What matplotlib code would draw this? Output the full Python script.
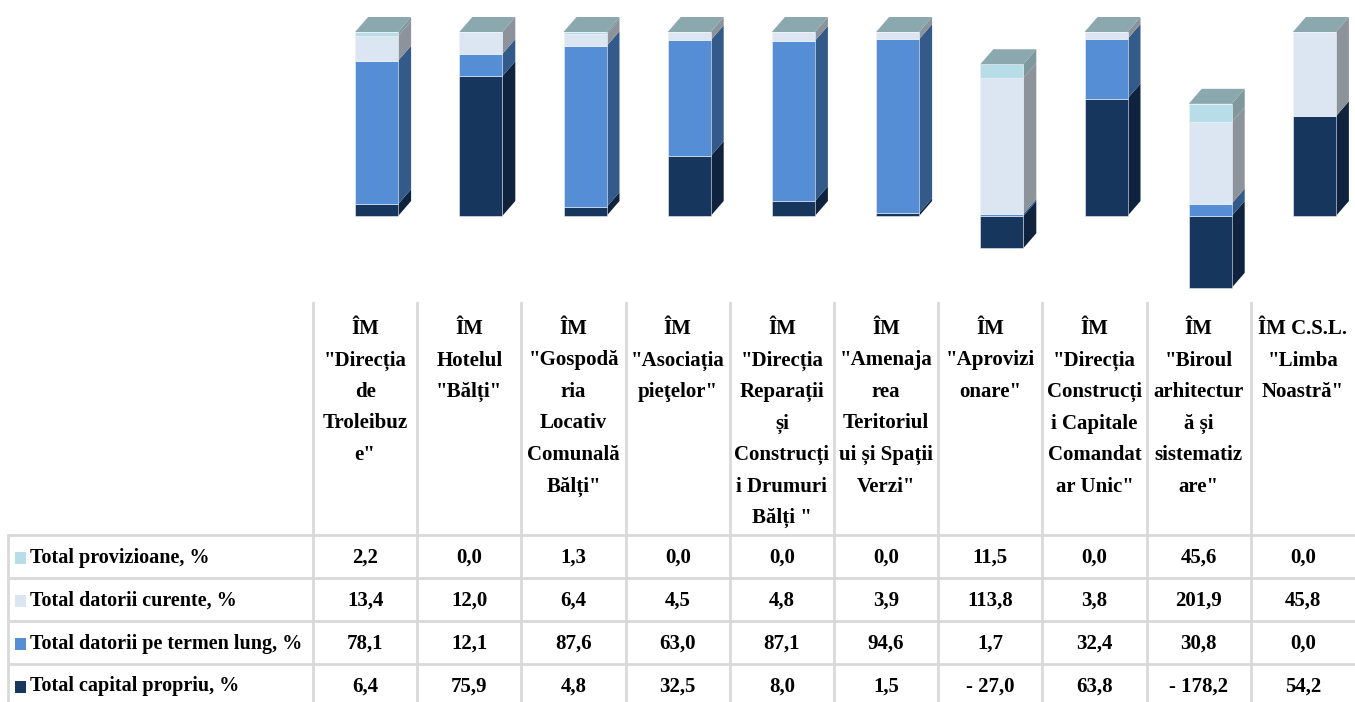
import numpy as np
import matplotlib
matplotlib.use("Agg")
import matplotlib.pyplot as plt
from matplotlib.patches import Polygon, Rectangle

plt.rcParams['font.family'] = ['Liberation Serif', 'DejaVu Serif']

# date din tabel
intreprinderi = [
    ['ÎM', '"Direcția', 'de', 'Troleibuz', 'e"'],
    ['ÎM', 'Hotelul', '"Bălți"'],
    ['ÎM', '"Gospodă', 'ria', 'Locativ', 'Comunală', 'Bălți"'],
    ['ÎM', '"Asociația', 'pieţelor"'],
    ['ÎM', '"Direcția', 'Reparații', 'și', 'Construcți', 'i Drumuri', 'Bălți "'],
    ['ÎM', '"Amenaja', 'rea', 'Teritoriul', 'ui și Spații', 'Verzi"'],
    ['ÎM', '"Aprovizi', 'onare"'],
    ['ÎM', '"Direcția', 'Construcți', 'i Capitale', 'Comandat', 'ar Unic"'],
    ['ÎM', '"Biroul', 'arhitectur', 'ă și', 'sistematiz', 'are"'],
    ['ÎM C.S.L.', '"Limba', 'Noastră"'],
]
serii = ['Total provizioane, %', 'Total datorii curente, %',
         'Total datorii pe termen lung, %', 'Total capital propriu, %']
provizioane = [2.2, 0.0, 1.3, 0.0, 0.0, 0.0, 11.5, 0.0, 45.6, 0.0]
datorii_curente = [13.4, 12.0, 6.4, 4.5, 4.8, 3.9, 113.8, 3.8, 201.9, 45.8]
datorii_lung = [78.1, 12.1, 87.6, 63.0, 87.1, 94.6, 1.7, 32.4, 30.8, 0.0]
capital = [6.4, 75.9, 4.8, 32.5, 8.0, 1.5, -27.0, 63.8, -178.2, 54.2]

# culori: fata, lateral
culori = {
    'prov': ('#B7DEE8', '#7E989D'),
    'cur': ('#DCE6F2', '#8D939B'),
    'lung': ('#558ED5', '#345A8A'),
    'cap': ('#17365D', '#0F233E'),
}
culoare_sus = '#8AA8AE'

W, H = 1355, 702
fig = plt.figure(figsize=(W / 100, H / 100), dpi=100)
fig.patch.set_facecolor('white')

def fx(px):
    return px / W

def fy(py):
    return 1 - py / H

# zona graficului: coloanele tabelului 313..1355, 0% la y=216, 100% la y=32
x_st, x_dr = 313, 1355
ppu = 184 / 100.0
y_sus = 216 / ppu
y_jos = -(300 - 216) / ppu
ax = fig.add_axes([fx(x_st), fy(300), fx(x_dr - x_st), 300 / H])
ax.set_xlim(0, 10)
ax.set_ylim(y_jos, y_sus)
ax.axis('off')

n = len(capital)
dx = 13 / ((x_dr - x_st) / 10)
dy = 15 / ppu
lat = 43 / ((x_dr - x_st) / 10)
off = -10 / ((x_dr - x_st) / 10)

for i in range(n):
    vals = np.array([capital[i], datorii_lung[i], datorii_curente[i], provizioane[i]])
    pct = vals / np.abs(vals).sum() * 100
    x0 = i + 0.5 + off
    x1 = x0 + lat
    segs = []
    # capital negativ sub zero
    if pct[0] < 0:
        segs.append(('cap', pct[0], 0))
        base = 0
        rest = [('lung', pct[1]), ('cur', pct[2]), ('prov', pct[3])]
    else:
        base = 0
        rest = [('cap', pct[0]), ('lung', pct[1]), ('cur', pct[2]), ('prov', pct[3])]
    for k, v in rest:
        segs.append((k, base, base + v))
        base += v
    for k, a, b in segs:
        fata, lateral = culori[k]
        if b - a <= 0:
            continue
        ax.add_patch(Polygon([(x1, a), (x1 + dx, a + dy), (x1 + dx, b + dy), (x1, b)],
                             closed=True, facecolor=lateral, edgecolor='none'))
        ax.bar(x0, b - a, bottom=a, width=lat, align='edge', color=fata,
               edgecolor='#EEF2F7', linewidth=0.4)
    top = base
    ax.add_patch(Polygon([(x0, top), (x0 + dx, top + dy), (x1 + dx, top + dy), (x1, top)],
                         closed=True, facecolor=culoare_sus, edgecolor='none'))

# tabelul
lc = '#D9D9D9'
col_w = (x_dr - x_st) / 10
rand_y = [535, 578, 621, 664, 707]
for xl in [x_st + j * col_w for j in range(10)]:
    fig.add_artist(plt.Line2D([fx(xl), fx(xl)], [fy(303), fy(702)], color=lc, lw=2))
fig.add_artist(plt.Line2D([fx(8), fx(8)], [fy(rand_y[0]), fy(702)], color=lc, lw=2))
for yl in rand_y[:4]:
    fig.add_artist(plt.Line2D([fx(8), fx(W)], [fy(yl), fy(yl)], color=lc, lw=2))

fs = 15
for j, linii in enumerate(intreprinderi):
    cx = x_st + (j + 0.5) * col_w
    for r, t in enumerate(linii):
        fig.text(fx(cx), fy(329 + r * 31.5), t, ha='center', va='center',
                 fontsize=fs, fontweight='bold', color='black')

date = [provizioane, datorii_curente, datorii_lung, capital]
chei = ['prov', 'cur', 'lung', 'cap']
for r, (nume, rand, k) in enumerate(zip(serii, date, chei)):
    cy = (rand_y[r] + rand_y[r + 1]) / 2 + 1
    fig.add_artist(Rectangle((fx(15), fy(cy + 6)), fx(11), 12 / H,
                             facecolor=culori[k][0], edgecolor='none'))
    fig.text(fx(30), fy(cy), nume, ha='left', va='center', fontsize=14.5,
             fontweight='bold', color='black')
    for j, v in enumerate(rand):
        s = f"{abs(v):.1f}".replace('.', ',')
        if v < 0:
            s = '- ' + s
        fig.text(fx(x_st + (j + 0.5) * col_w), fy(cy), s, ha='center', va='center',
                 fontsize=fs, fontweight='bold', color='black')

fig.savefig('out.png', dpi=100, facecolor='white')
